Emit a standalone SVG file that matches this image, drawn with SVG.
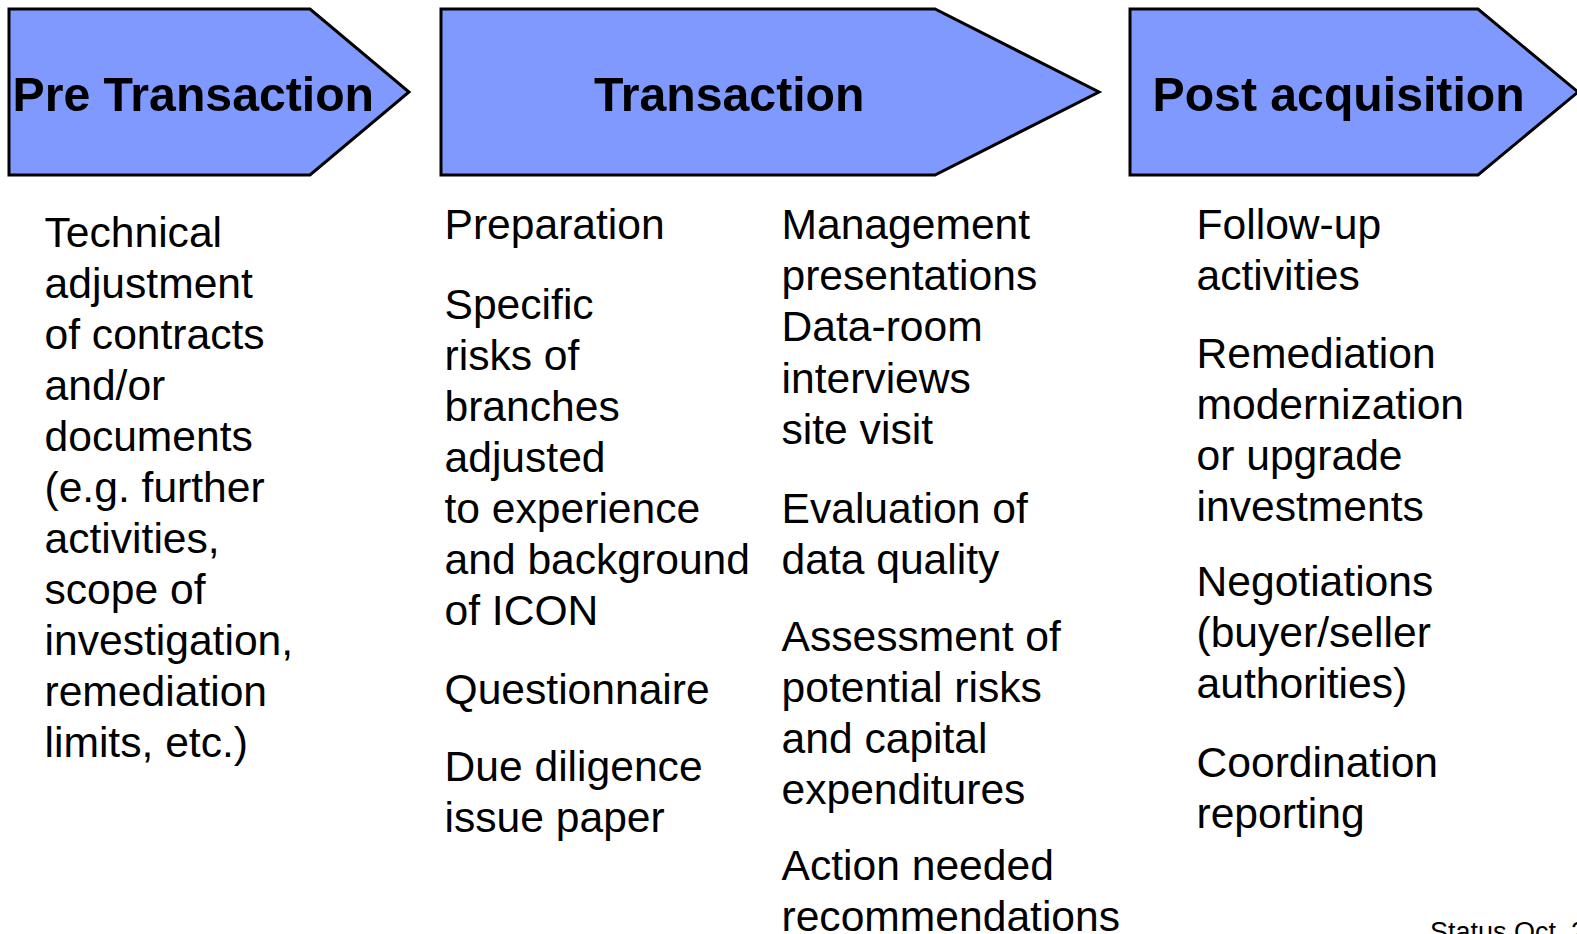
<svg xmlns="http://www.w3.org/2000/svg" width="1577" height="934" viewBox="0 0 1577 934">
  <style>
    .chev { fill: #7f99ff; stroke: #000000; stroke-width: 3; stroke-linejoin: miter; }
    .head { font-family: "Liberation Sans", Arial, sans-serif; font-weight: bold; font-size: 48.2px; fill: #000000; }
    .body { font-family: "Liberation Sans", Arial, sans-serif; font-size: 42.6px; fill: #000000; }
    .note { font-family: "Liberation Sans", Arial, sans-serif; font-size: 27px; fill: #000000; }
  </style>
  <rect x="0" y="0" width="1577" height="934" fill="#ffffff"/>

  <!-- Phase chevrons -->
  <g id="phase-pre">
    <path class="chev" d="M9,9 L310,9 L409,92 L310,175 L9,175 Z"/>
    <text class="head" x="12.5" y="111">Pre Transaction</text>
  </g>
  <g id="phase-transaction">
    <path class="chev" d="M441,9 L935,9 L1099,92 L935,175 L441,175 Z"/>
    <text class="head" x="594" y="111">Transaction</text>
  </g>
  <g id="phase-post">
    <path class="chev" d="M1130,9 L1478,9 L1578,92 L1478,175 L1130,175 Z"/>
    <text class="head" x="1152.5" y="111">Post acquisition</text>
  </g>

  <!-- Activities under Pre Transaction -->
  <g id="list-pre">
    <text class="body" x="44.5" y="247">Technical</text>
    <text class="body" x="44.5" y="298">adjustment</text>
    <text class="body" x="44.5" y="349">of contracts</text>
    <text class="body" x="44.5" y="400">and/or</text>
    <text class="body" x="44.5" y="451">documents</text>
    <text class="body" x="44.5" y="502">(e.g. further</text>
    <text class="body" x="44.5" y="553">activities,</text>
    <text class="body" x="44.5" y="604">scope of</text>
    <text class="body" x="44.5" y="655">investigation,</text>
    <text class="body" x="44.5" y="706">remediation</text>
    <text class="body" x="44.5" y="757">limits, etc.)</text>
  </g>

  <!-- Activities under Transaction, left column -->
  <g id="list-transaction-a">
    <text class="body" x="444.5" y="239">Preparation</text>
    <text class="body" x="444.5" y="319">Specific</text>
    <text class="body" x="444.5" y="370">risks of</text>
    <text class="body" x="444.5" y="421">branches</text>
    <text class="body" x="444.5" y="472">adjusted</text>
    <text class="body" x="444.5" y="523">to experience</text>
    <text class="body" x="444.5" y="574">and background</text>
    <text class="body" x="444.5" y="625">of ICON</text>
    <text class="body" x="444.5" y="704">Questionnaire</text>
    <text class="body" x="444.5" y="781">Due diligence</text>
    <text class="body" x="444.5" y="832">issue paper</text>
  </g>

  <!-- Activities under Transaction, right column -->
  <g id="list-transaction-b">
    <text class="body" x="781.5" y="239">Management</text>
    <text class="body" x="781.5" y="290">presentations</text>
    <text class="body" x="781.5" y="341">Data-room</text>
    <text class="body" x="781.5" y="393">interviews</text>
    <text class="body" x="781.5" y="444">site visit</text>
    <text class="body" x="781.5" y="523">Evaluation of</text>
    <text class="body" x="781.5" y="574">data quality</text>
    <text class="body" x="781.5" y="651">Assessment of</text>
    <text class="body" x="781.5" y="702">potential risks</text>
    <text class="body" x="781.5" y="753">and capital</text>
    <text class="body" x="781.5" y="804">expenditures</text>
    <text class="body" x="781.5" y="880">Action needed</text>
    <text class="body" x="781.5" y="931">recommendations</text>
  </g>

  <!-- Activities under Post acquisition -->
  <g id="list-post">
    <text class="body" x="1196.5" y="239">Follow-up</text>
    <text class="body" x="1196.5" y="290">activities</text>
    <text class="body" x="1196.5" y="368">Remediation</text>
    <text class="body" x="1196.5" y="419">modernization</text>
    <text class="body" x="1196.5" y="470">or upgrade</text>
    <text class="body" x="1196.5" y="521">investments</text>
    <text class="body" x="1196.5" y="596">Negotiations</text>
    <text class="body" x="1196.5" y="647">(buyer/seller</text>
    <text class="body" x="1196.5" y="698">authorities)</text>
    <text class="body" x="1196.5" y="777">Coordination</text>
    <text class="body" x="1196.5" y="828">reporting</text>
  </g>

  <!-- Footer status line -->
  <g id="footer">
    <text class="note" x="1430" y="941">Status Oct. 2</text>
  </g>
</svg>
